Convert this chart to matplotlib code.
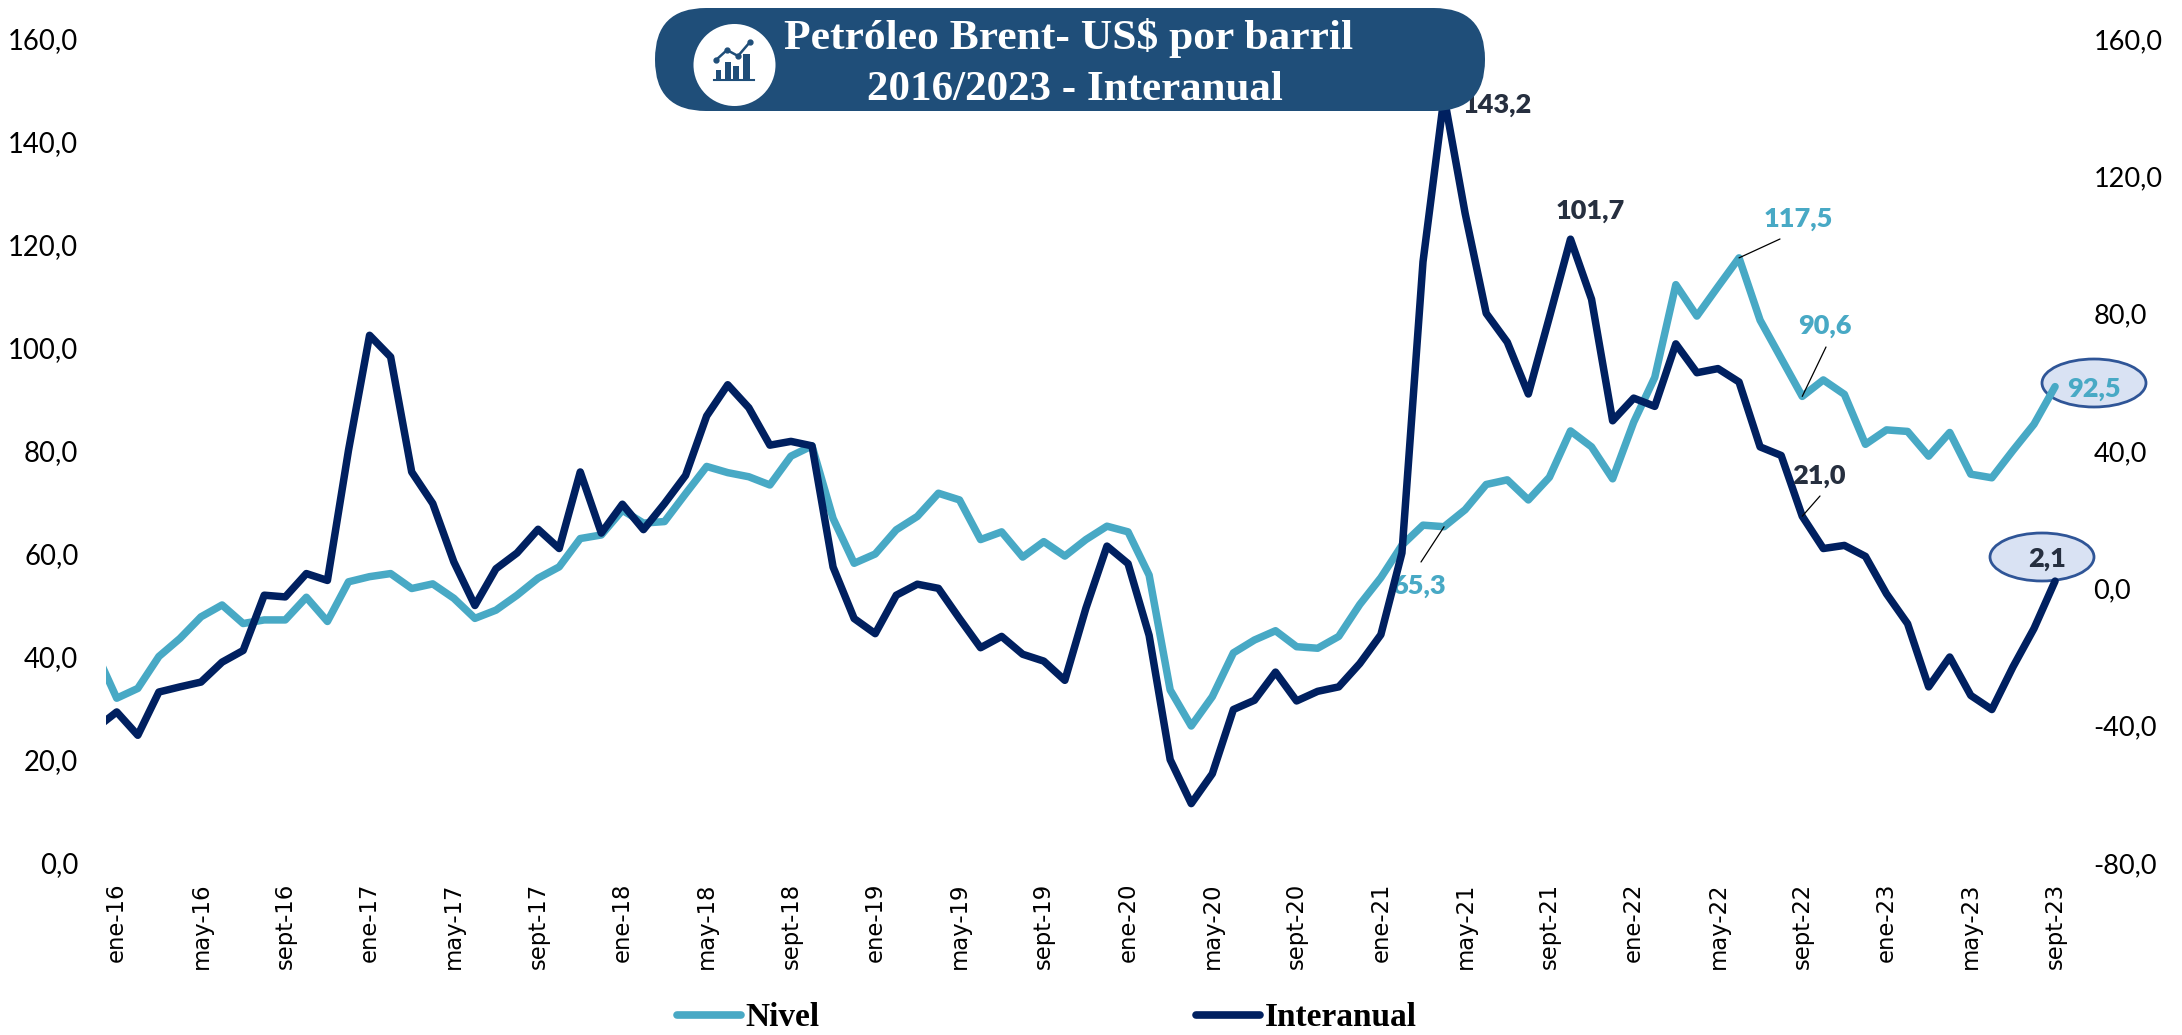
import numpy as np
import matplotlib
matplotlib.use('Agg')
import matplotlib.pyplot as plt
from matplotlib.patches import Circle, Ellipse, FancyBboxPatch, Rectangle

# Months, the first value (dic-15) is only partly visible at the left edge
months = ['ene', 'feb', 'mar', 'abr', 'may', 'jun', 'jul', 'ago', 'sept', 'oct', 'nov', 'dic']
tick_labels = ['dic-15'] + [f'{months[i % 12]}-{16 + i // 12}' for i in range(93)]

# Left axis, US$ per barrel
nivel = [41.0,
         32.0, 33.9, 40.1, 43.6, 47.8, 50.1, 46.5, 47.2, 47.2, 51.6, 46.9, 54.6,
         55.6, 56.2, 53.3, 54.2, 51.4, 47.5, 49.1, 52.0, 55.3, 57.5, 63.0, 63.7,
         68.5, 66.0, 66.3, 71.7, 77.0, 75.8, 75.0, 73.4, 79.0, 81.0, 66.9, 58.2,
         60.0, 64.7, 67.3, 71.8, 70.5, 62.8, 64.3, 59.4, 62.4, 59.6, 62.8, 65.4,
         64.3, 55.9, 33.6, 26.6, 32.3, 40.8, 43.3, 45.1, 42.0, 41.7, 44.0, 50.2,
         55.4, 61.7, 65.6, 65.3, 68.6, 73.5, 74.4, 70.5, 74.9, 83.9, 80.8, 74.6,
         85.6, 94.3, 112.3, 106.2, 111.9, 117.5, 105.4, 98.0, 90.6, 93.8, 91.0, 81.3,
         84.1, 83.8, 79.0, 83.6, 75.5, 74.8, 80.1, 85.2, 92.5]

# Right axis, year on year change
interanual = [-40.8,
              -36.0, -42.8, -30.2, -28.7, -27.3, -21.5, -18.1, -2.0, -2.5, 4.3, 2.3, 40.2,
              73.7, 67.4, 33.9, 24.7, 7.7, -5.0, 5.7, 10.3, 17.2, 11.6, 33.9, 16.1,
              24.5, 17.1, 24.7, 32.9, 50.2, 59.3, 52.6, 41.7, 42.8, 41.5, 6.2, -8.8,
              -13.2, -2.0, 1.2, 0.0, -8.8, -17.3, -14.0, -19.2, -21.2, -26.8, -5.8, 12.3,
              7.2, -13.7, -49.9, -62.7, -54.0, -35.3, -32.6, -24.4, -32.8, -30.0, -28.7, -21.9,
              -13.5, 10.3, 95.1, 143.2, 109.2, 80.1, 71.7, 56.6, 79.0, 101.7, 84.2, 48.8,
              55.4, 53.0, 71.2, 62.8, 64.0, 60.1, 41.2, 38.7, 21.0, 11.6, 12.5, 9.3,
              -1.6, -10.3, -28.7, -20.0, -31.2, -35.3, -22.9, -11.7, 2.1]

left_ticks = [0, 20, 40, 60, 80, 100, 120, 140, 160]
right_ticks = [-80, -40, 0, 40, 80, 120, 160]

color_nivel = '#48A9C5'
color_inter = '#002060'
color_pill = '#1F4E79'
color_dark = '#262F3F'
font_axis = 'Lato'
font_title = 'Liberation Serif'

W, H = 2182, 1035
fig = plt.figure(figsize=(W / 100, H / 100), dpi=100)
ax = fig.add_axes([106.2 / W, (H - 863) / H, (2065.6 - 106.2) / W, 824 / H])
ax2 = ax.twinx()

# Overlay in pixel units for the title pill and the labels
over = fig.add_axes([0, 0, 1, 1], zorder=10)
over.set_xlim(0, W)
over.set_ylim(H, 0)
over.axis('off')

x = np.arange(-1, 93)
line1, = ax.plot(x, nivel, color=color_nivel, lw=5.4, solid_joinstyle='round', solid_capstyle='round', label='Nivel')
line2, = ax2.plot(x, interanual, color=color_inter, lw=5.4, solid_joinstyle='round', solid_capstyle='round', label='Interanual')

ax.set_xlim(-0.5, 92.5)
ax.set_ylim(0, 160)
ax2.set_ylim(-80, 160)

ax.set_yticks(left_ticks)
ax.set_yticklabels([f'{v},0' for v in left_ticks], fontname=font_axis, fontsize=19.8)
ax2.set_yticks(right_ticks)
ax2.set_yticklabels([f'{v},0' for v in right_ticks], fontname=font_axis, fontsize=19.5)
ax.tick_params(axis='y', length=0, pad=20)
ax2.tick_params(axis='y', length=0, pad=20)

xticks = np.arange(0, 93, 4)
ax.set_xticks(xticks)
ax.set_xticklabels([tick_labels[i + 1] for i in xticks], rotation=90, fontname='DejaVu Sans', fontsize=16.4)
ax.tick_params(axis='x', length=0, pad=14)

for a in (ax, ax2):
    for side in a.spines:
        a.spines[side].set_visible(False)

# Ellipses behind the last values
for cx, cy in [(2094, 383), (2042, 557)]:
    ax.add_patch(Ellipse((cx, cy), 104, 48, transform=over.transData, clip_on=False,
                         facecolor='#D9E2F3', edgecolor='#2F5597', lw=2, zorder=1))


def label(axis, series, idx, px, py, color, leader=None):
    """Write the value of a point at pixel position px, py, with an optional leader line"""
    value = series[idx + 1]
    if leader:
        axis.annotate('', xy=(idx, value), xytext=leader, textcoords=over.transData,
                      arrowprops=dict(arrowstyle='-', color='black', lw=0.9, shrinkA=0, shrinkB=0))
    axis.annotate(f'{value:.1f}'.replace('.', ','), xy=(idx, value), xytext=(px, py), textcoords=over.transData,
                  color=color, fontname=font_axis, fontweight='heavy', fontsize=19.5, ha='center', va='center',
                  annotation_clip=False, zorder=6)


label(ax2, interanual, 63, 1497, 105, color_dark)
label(ax2, interanual, 69, 1590, 211, color_dark)
label(ax2, interanual, 80, 1819, 476, color_dark, leader=(1820, 496))
label(ax2, interanual, 92, 2047, 559, color_dark)
label(ax, nivel, 77, 1798, 219, color_nivel, leader=(1780, 239))
label(ax, nivel, 80, 1825, 326, color_nivel, leader=(1826, 347))
label(ax, nivel, 63, 1419, 586, color_nivel, leader=(1421, 562))
label(ax, nivel, 92, 2094, 389, color_nivel)

# Title pill
over.add_patch(FancyBboxPatch((655, 8), 830, 103, boxstyle='round,pad=0,rounding_size=51', facecolor=color_pill, edgecolor='none'))
over.add_patch(Circle((734.5, 65), 41, facecolor='white', edgecolor='none'))
over.text(1069, 38, 'Petróleo Brent- US$ por barril', color='white', fontname=font_title, fontweight='bold', fontsize=31.3, ha='center', va='center')
over.text(1075, 90, '2016/2023 - Interanual', color='white', fontname=font_title, fontweight='bold', fontsize=31, ha='center', va='center')

# Icon in the circle
for bx, bw, top in [(716, 5, 70), (725, 6, 62), (733, 6, 66), (743, 7, 54)]:
    over.add_patch(Rectangle((bx, top), bw, 79 - top, facecolor=color_pill, edgecolor='none'))
over.plot([714, 754], [80, 80], color=color_pill, lw=1.5)
over.plot([716, 727, 738, 750], [60, 50, 56, 42], color=color_pill, lw=1.8, marker='o', ms=3.5)

# Legend at the bottom
legend = fig.legend(handles=[line1, line2], loc='center', bbox_to_anchor=(1047 / W, (H - 1018) / H), ncol=2, frameon=False,
                    handlelength=1.9, handletextpad=0.15, columnspacing=11.3,
                    prop={'family': font_title, 'weight': 'bold', 'size': 24})
for handle in legend.legend_handles:
    handle.set_linewidth(5.5)

fig.savefig('out.png', dpi=100)
